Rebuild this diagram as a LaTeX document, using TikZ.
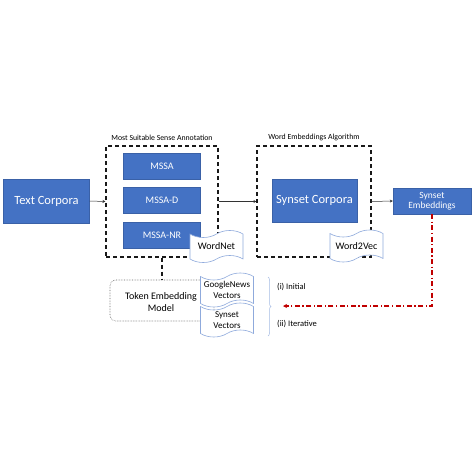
\documentclass[tikz,border=0pt]{standalone}
\usepackage{fontspec}
\setmainfont{Carlito}
\usetikzlibrary{shapes.symbols,arrows.meta,decorations.pathreplacing}
\definecolor{obl}{HTML}{4472C4}
\definecolor{docl}{HTML}{8FAADC}
\definecolor{dred}{HTML}{C00000}
\tikzset{
  bluebox/.style={draw=obl!85!black,line width=0.4pt,fill=obl,text=white,inner sep=0pt},
  dbox/.style={draw=black!90,line width=1.1pt,dash pattern=on 4pt off 3pt,inner sep=0pt},
  doc/.style={tape,draw=docl,fill=white,line width=0.6pt,inner sep=0pt,tape bend height=7pt,minimum width=53pt,minimum height=32pt,align=center,font=\fontsize{10}{11}\selectfont,text=black},
  arr/.style={-{Stealth[length=3pt,width=3pt]},line width=0.5pt,draw=black!80},
  lbl/.style={font=\fontsize{7.8}{9}\selectfont,inner sep=0pt}
}
\begin{document}
\begin{tikzpicture}[x=1pt,y=-1pt]
\useasboundingbox (0,0) rectangle (474,474);
% dashed group boxes
\node[dbox,minimum width=112pt,minimum height=111pt] (ms) at (162,201.5) {};
\node[dbox,minimum width=114pt,minimum height=111pt] (we) at (314,201.5) {};
\node[lbl] (msl) at (162,137.5) {Most Suitable Sense Annotation};
\node[lbl] (wel) at (314,137.5) {Word Embeddings Algorithm};
% blue boxes
\node[bluebox,minimum width=86pt,minimum height=44pt,font=\fontsize{12.5}{14}\selectfont] (tc) at (46.5,201) {Text Corpora};
\node[bluebox,minimum width=77pt,minimum height=26pt,font=\fontsize{10}{11}\selectfont] (m1) at (162,166) {MSSA};
\node[bluebox,minimum width=77pt,minimum height=26pt,font=\fontsize{10}{11}\selectfont] (m2) at (162,200.5) {MSSA-D};
\node[bluebox,minimum width=77pt,minimum height=26pt,font=\fontsize{10}{11}\selectfont] (m3) at (162,235.5) {MSSA-NR};
\node[bluebox,minimum width=85pt,minimum height=43pt,font=\fontsize{12.5}{14}\selectfont] (sc) at (314.5,200.5) {Synset Corpora};
\node[bluebox,minimum width=78pt,minimum height=26pt,align=center,font=\fontsize{9.5}{10.5}\selectfont] (se) at (432,201) {Synset\\Embeddings};
% token embedding model
\node[draw=black!60,densely dotted,rounded corners=6pt,line width=0.6pt,minimum width=104pt,minimum height=41pt,inner sep=0pt] (tem) at (162,300.5) {};
\node[align=center,font=\fontsize{10}{12}\selectfont,inner sep=0pt] (temt) at (161,302.5) {Token Embedding\\Model};
% documents
\node[doc] (wn) at (216.5,246.5) {WordNet};
\node[doc] (w2v) at (356.5,246) {Word2Vec};
\node[doc,minimum height=34pt,font=\fontsize{9}{10.5}\selectfont] (gn) at (227,290) {GoogleNews\\Vectors};
\node[doc,minimum height=34pt,font=\fontsize{9}{10.5}\selectfont] (sv) at (227,320) {Synset\\Vectors};
% connectors
\draw[arr] (tc.east) -- (ms.west);
\draw[arr] (ms.east) -- (we.west);
\draw[arr] (we.east) -- (se.west);
\draw[line width=1.1pt,dash pattern=on 4pt off 3pt,draw=black!90] (ms.south) -- (tem.north);
% brace and labels
\coordinate (bt) at (268,277);
\coordinate (bb) at (268,336);
\draw[docl!80,line width=0.5pt,decorate,decoration={brace,amplitude=3pt}] (bt) -- (bb);
\node[lbl,anchor=west,font=\fontsize{8.5}{10}\selectfont] (ini) at (277,287) {(i) Initial};
\node[lbl,anchor=west,font=\fontsize{8.5}{10}\selectfont] (ite) at (277,324) {(ii) Iterative};
\coordinate (rend) at (283,306);
\draw[dred,line width=1.1pt,dash pattern=on 5pt off 2.5pt on 1.2pt off 2.5pt,-{Stealth[length=4pt,width=4pt]}] (se.south) -- (se.south |- rend) -- (rend);
\end{tikzpicture}
\end{document}
